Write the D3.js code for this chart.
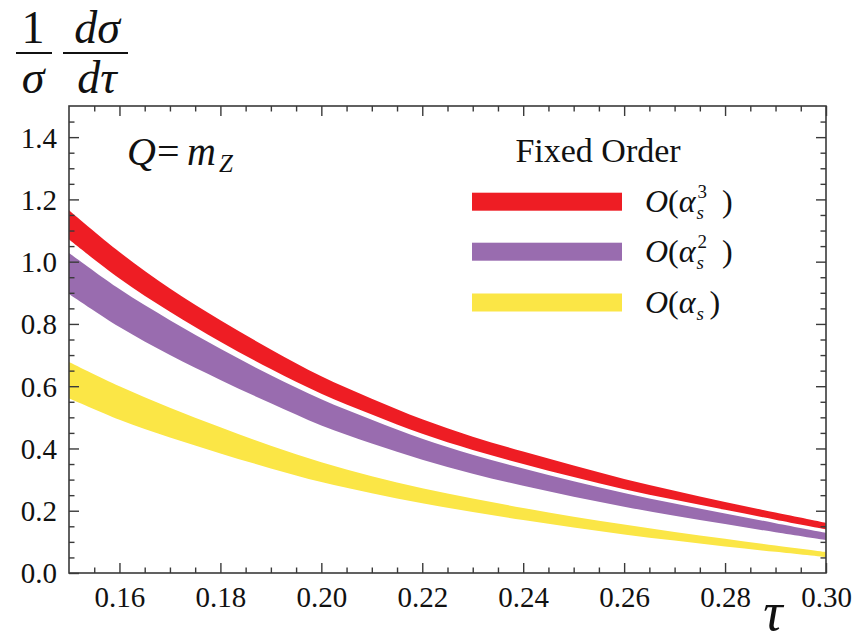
<!DOCTYPE html>
<html>
<head>
<meta charset="utf-8">
<script src="https://cdn.jsdelivr.net/npm/d3@7"></script>
<style>
  html, body { margin: 0; padding: 0; background: #fff; }
  svg { display: block; }
</style>
</head>
<body>
<svg id="chart" width="853" height="643"></svg>
<script>
// thrust distribution, fixed-order bands at Q = m_Z
const tau = [0.15, 0.16, 0.17, 0.18, 0.19, 0.20, 0.21, 0.22, 0.23, 0.24, 0.25, 0.26, 0.27, 0.28, 0.29, 0.30];

const o3Upper = [1.165, 1.031, 0.914, 0.812, 0.718, 0.632, 0.560, 0.494, 0.438, 0.390, 0.345, 0.302, 0.264, 0.228, 0.194, 0.161];
const o3Lower = [1.071, 0.946, 0.839, 0.743, 0.655, 0.576, 0.509, 0.447, 0.395, 0.350, 0.308, 0.269, 0.235, 0.203, 0.171, 0.140];

const o2Upper = [1.028, 0.912, 0.812, 0.720, 0.635, 0.558, 0.492, 0.431, 0.380, 0.336, 0.295, 0.257, 0.223, 0.191, 0.160, 0.129];
const o2Lower = [0.896, 0.790, 0.700, 0.620, 0.545, 0.474, 0.416, 0.364, 0.319, 0.280, 0.245, 0.213, 0.184, 0.157, 0.131, 0.106];

const o1Upper = [0.678, 0.600, 0.531, 0.468, 0.409, 0.356, 0.311, 0.272, 0.239, 0.209, 0.181, 0.156, 0.132, 0.110, 0.088, 0.067];
const o1Lower = [0.561, 0.492, 0.435, 0.384, 0.336, 0.292, 0.256, 0.224, 0.196, 0.170, 0.146, 0.124, 0.104, 0.085, 0.068, 0.051];

const xTickValues = [0.16, 0.18, 0.20, 0.22, 0.24, 0.26, 0.28, 0.30];
const yTickValues = [0.0, 0.2, 0.4, 0.6, 0.8, 1.0, 1.2, 1.4];

const legendTitle = "Fixed Order";
const seriesPowers = ["3", "2", ""];
const seriesColors = ["#ee1d24", "#996caf", "#fbe646"];

// ---- pick an installed serif face by comparing measured widths
function pickSerif() {
  const ctx = document.createElement("canvas").getContext("2d");
  const sample = "0.16 Fixed Order Qm ασ";
  const widthOf = fam => { ctx.font = `40px ${fam}`; return ctx.measureText(sample).width; };
  const baseMono = widthOf("monospace"), baseSans = widthOf("sans-serif");
  const candidates = ["Liberation Serif", "DejaVu Serif", "Tinos", "Times New Roman", "Noto Serif",
                      "FreeSerif", "Nimbus Roman", "Times"];
  for (const c of candidates) {
    const a = widthOf(`"${c}", monospace`), b = widthOf(`"${c}", sans-serif`);
    if (Math.abs(a - baseMono) > 0.5 && Math.abs(b - baseSans) > 0.5) return `"${c}", serif`;
  }
  return "serif";
}
const SERIF = pickSerif();

// ---- layout
const plot = { left: 69, right: 826, top: 106, bottom: 573 };

const svg = d3.select("#chart");

const x = d3.scaleLinear().domain([0.15, 0.30]).range([plot.left, plot.right]);
const y = d3.scaleLinear().domain([0.0, 1.5]).range([plot.bottom, plot.top]);

svg.append("defs").append("clipPath").attr("id", "plotClip")
  .append("rect")
  .attr("x", plot.left).attr("y", plot.top)
  .attr("width", plot.right - plot.left).attr("height", plot.bottom - plot.top);

// ---- bands (lowest order drawn first)
const bands = [
  { upper: o1Upper, lower: o1Lower, color: seriesColors[2] },
  { upper: o2Upper, lower: o2Lower, color: seriesColors[1] },
  { upper: o3Upper, lower: o3Lower, color: seriesColors[0] }
];

const area = d3.area()
  .x(d => x(d.t))
  .y0(d => y(d.lo))
  .y1(d => y(d.hi))
  .curve(d3.curveCatmullRom.alpha(0.5));

const bandLayer = svg.append("g").attr("clip-path", "url(#plotClip)");
bands.forEach(b => {
  const rows = tau.map((t, i) => ({ t, lo: b.lower[i], hi: b.upper[i] }));
  bandLayer.append("path")
    .datum(rows)
    .attr("d", area)
    .attr("fill", b.color);
});

// ---- frame and ticks on all four sides
const axisColor = "#3a3a3a";
const majorLen = 10, minorLen = 5.5;

const xMinor = d3.range(0.155, 0.3001, 0.005).filter(v => !xTickValues.some(t => Math.abs(t - v) < 1e-6));
const yMinor = d3.range(0.05, 1.5001, 0.05).filter(v => !yTickValues.some(t => Math.abs(t - v) < 1e-6) && v < 1.499);
const yMajorAll = yTickValues.filter(v => v > 0);

function drawAxes() {
  const g = svg.append("g").attr("class", "axes");

  const bottom = d3.axisBottom(x).tickValues(xTickValues).tickSize(-majorLen).tickPadding(13)
    .tickFormat(d3.format(".2f"));
  const gb = g.append("g").attr("transform", `translate(0,${plot.bottom})`).call(bottom);
  const top = d3.axisTop(x).tickValues(xTickValues).tickSize(-majorLen).tickFormat("");
  const gt = g.append("g").attr("transform", `translate(0,${plot.top})`).call(top);

  const left = d3.axisLeft(y).tickValues(yTickValues).tickSize(-majorLen).tickPadding(12)
    .tickFormat(d3.format(".1f"));
  const gl = g.append("g").attr("transform", `translate(${plot.left},0)`).call(left);
  const right = d3.axisRight(y).tickValues(yMajorAll).tickSize(-majorLen).tickFormat("");
  const gr = g.append("g").attr("transform", `translate(${plot.right},0)`).call(right);

  const gbm = g.append("g").attr("transform", `translate(0,${plot.bottom})`)
    .call(d3.axisBottom(x).tickValues(xMinor).tickSize(-minorLen).tickFormat(""));
  const gtm = g.append("g").attr("transform", `translate(0,${plot.top})`)
    .call(d3.axisTop(x).tickValues(xMinor).tickSize(-minorLen).tickFormat(""));
  const glm = g.append("g").attr("transform", `translate(${plot.left},0)`)
    .call(d3.axisLeft(y).tickValues(yMinor).tickSize(-minorLen).tickFormat(""));
  const grm = g.append("g").attr("transform", `translate(${plot.right},0)`)
    .call(d3.axisRight(y).tickValues(yMinor).tickSize(-minorLen).tickFormat(""));

  [gb, gt, gl, gr, gbm, gtm, glm, grm].forEach(s => {
    s.attr("font-family", null).attr("font-size", null);
    s.select(".domain").remove();
    s.selectAll(".tick line").attr("stroke", axisColor).attr("stroke-width", 1.4);
  });

  g.selectAll(".tick text")
    .style("font-family", SERIF)
    .style("font-size", "29px")
    .attr("fill", "#111");

  gl.selectAll(".tick text").attr("dy", "0.34em");

  g.append("rect")
    .attr("x", plot.left).attr("y", plot.top)
    .attr("width", plot.right - plot.left).attr("height", plot.bottom - plot.top)
    .attr("fill", "none").attr("stroke", axisColor).attr("stroke-width", 1.6);
}
drawAxes();

// ---- y-axis title:  1/σ · dσ/dτ
const titleG = svg.append("g").style("font-family", SERIF).attr("fill", "#111").style("font-size", "46px");
function frac(cx, num, den, barX0, barX1, italicNum) {
  titleG.append("text").attr("x", cx).attr("y", 43).attr("text-anchor", "middle")
    .style("font-style", italicNum ? "italic" : "normal").text(num);
  titleG.append("text").attr("x", cx).attr("y", 93).attr("text-anchor", "middle")
    .style("font-style", "italic").text(den);
  titleG.append("line").attr("x1", barX0).attr("x2", barX1).attr("y1", 53).attr("y2", 53)
    .attr("stroke", "#111").attr("stroke-width", 2.2);
}
frac(33, "1", "σ", 16, 52, false);
frac(97, "dσ", "dτ", 63, 128, true);

// ---- x-axis title τ
svg.append("text").style("font-family", SERIF).attr("fill", "#111")
  .attr("x", 773).attr("y", 630).attr("text-anchor", "middle")
  .style("font-size", "54px").style("font-style", "italic").text("τ");

// ---- Q = m_Z annotation
const qG = svg.append("g").style("font-family", SERIF).attr("fill", "#111").style("font-size", "40px");
qG.append("text").attr("x", 127).attr("y", 165).style("font-style", "italic").text("Q");
qG.append("text").attr("x", 157).attr("y", 165).text("=");
qG.append("text").attr("x", 187).attr("y", 165).style("font-style", "italic").text("m");
qG.append("text").attr("x", 219).attr("y", 172).style("font-size", "25px").style("font-style", "italic").text("Z");

// ---- legend
const legend = svg.append("g");
legend.append("text").style("font-family", SERIF).attr("fill", "#111")
  .attr("x", 598).attr("y", 162).attr("text-anchor", "middle")
  .style("font-size", "34px")
  .text(legendTitle);

const rowY = [201.7, 251.7, 302.5];
seriesColors.forEach((color, i) => {
  legend.append("rect")
    .attr("x", 472).attr("y", rowY[i] - 9)
    .attr("width", 150).attr("height", 18)
    .attr("fill", color);

  const base = rowY[i] + 10;
  const lg = legend.append("g").style("font-family", SERIF).attr("fill", "#111").style("font-size", "32px");
  const t1 = lg.append("text").attr("x", 645).attr("y", base);
  t1.append("tspan").style("font-style", "italic").text("O");
  t1.append("tspan").text("(");
  t1.append("tspan").style("font-style", "italic").text("α");
  const endX = 645 + t1.node().getComputedTextLength() + 1;

  lg.append("text").attr("x", endX).attr("y", base + 7)
    .style("font-size", "19px").style("font-style", "italic").text("s");
  if (seriesPowers[i]) {
    lg.append("text").attr("x", endX + 1).attr("y", base - 14)
      .style("font-size", "19px").text(seriesPowers[i]);
  }
  lg.append("text").attr("x", seriesPowers[i] ? 722 : endX + 13).attr("y", base).text(")");
});
</script>
</body>
</html>
